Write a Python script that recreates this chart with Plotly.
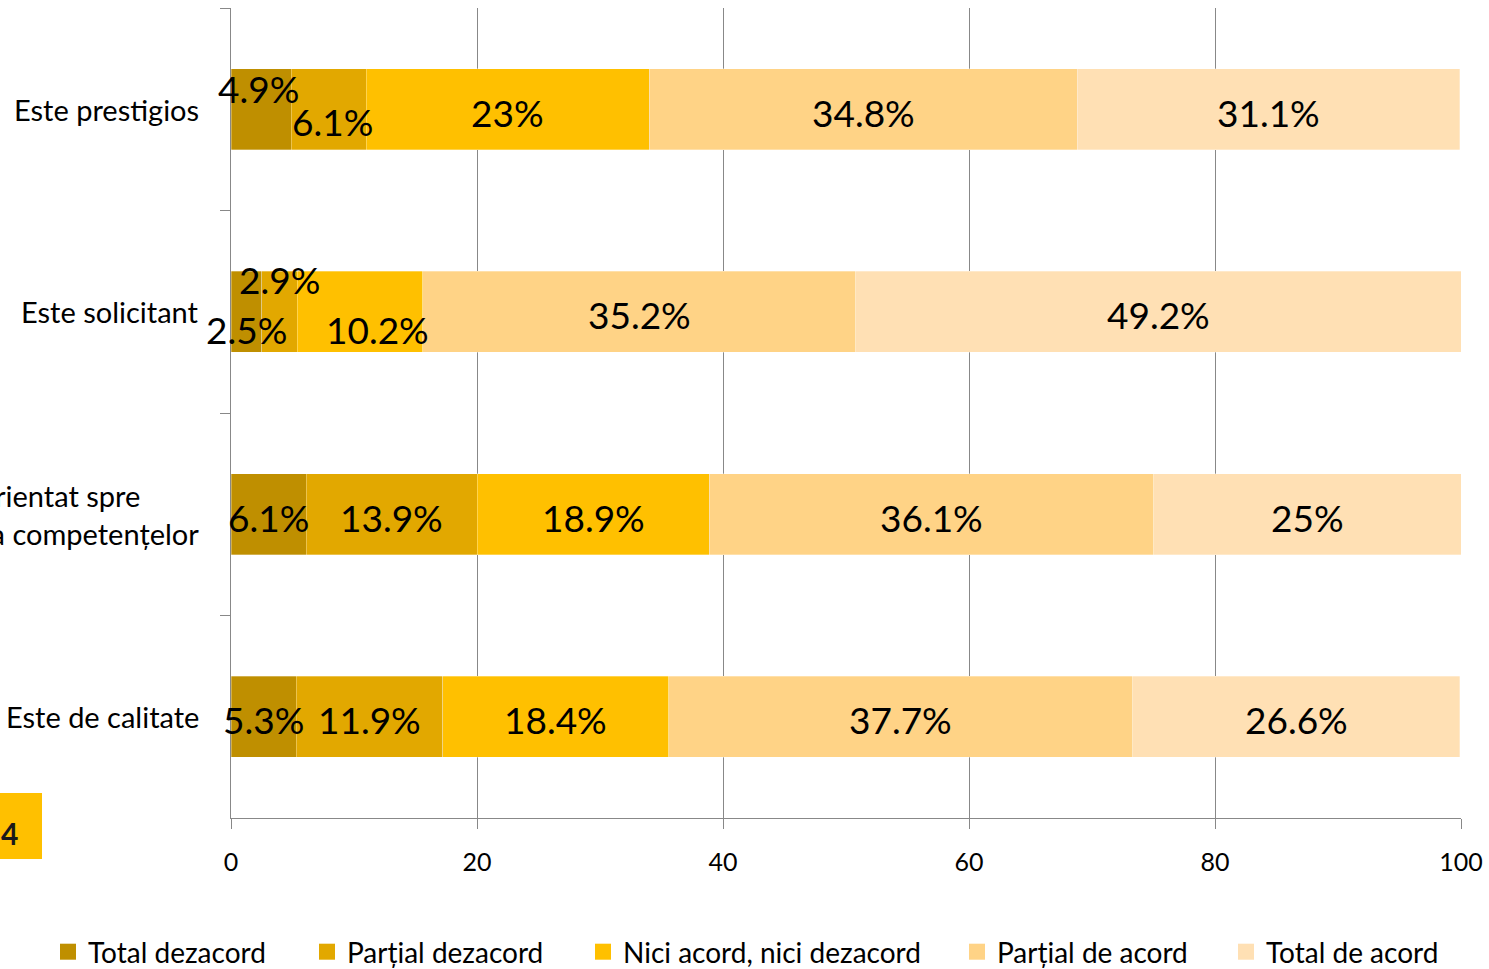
import plotly.graph_objects as go

categories = ["Este prestigios", "Este solicitant",
              "Este orientat spre<br>dezvoltarea competențelor", "Este de calitate"]
series_names = ["Total dezacord", "Parțial dezacord", "Nici acord, nici dezacord",
                "Parțial de acord", "Total de acord"]
total_dezacord = [4.9, 2.5, 6.1, 5.3]
partial_dezacord = [6.1, 2.9, 13.9, 11.9]
nici_acord = [23, 10.2, 18.9, 18.4]
partial_acord = [34.8, 35.2, 36.1, 37.7]
total_acord = [31.1, 49.2, 25, 26.6]
x_ticks = [0, 20, 40, 60, 80, 100]

series_values = [total_dezacord, partial_dezacord, nici_acord, partial_acord, total_acord]
colors = ["#BF8F00", "#E2A800", "#FFC000", "#FFD386", "#FFE0B4"]

# layout helpers (pixels)
PLOT_L, PLOT_R, PLOT_T, PLOT_B = 231, 1461, 8, 818
W, H = 1489, 969
def px_x(p):
    return (p - PLOT_L) / (PLOT_R - PLOT_L)
def px_y(p):
    return (PLOT_B - p) / (PLOT_B - PLOT_T)

legend_square_centers = [67, 326, 602, 976, 1245]
legend_y_px = 952

# manual label nudges in pixels: (category index, series index) -> (xshift, yshift)
label_nudge = {
    (0, 0): (-3, 21), (0, 1): (4, -12),
    (1, 0): (0, -18), (1, 1): (0, 32), (1, 2): (17, -18),
}

FONT = "Lato"
fig = go.Figure()
for i, (name, vals, col) in enumerate(zip(series_names, series_values, colors)):
    fig.add_trace(go.Bar(
        y=categories, x=vals, name=name, orientation="h",
        marker=dict(color=col, line=dict(color="rgba(255,255,255,0.5)", width=0.6)),
        hoverinfo="x+name", showlegend=False,
    ))
    lg = "legend" if i == 0 else f"legend{i + 1}"
    fig.add_trace(go.Scatter(
        x=[None], y=[None], mode="markers", name=name, legend=lg,
        marker=dict(symbol="square", size=16, color=col), showlegend=True,
    ))

annotations = []
for ci, cat in enumerate(categories):
    cum = 0.0
    for si, vals in enumerate(series_values):
        v = vals[ci]
        mid = cum + v / 2
        cum += v
        xs, ys = label_nudge.get((ci, si), (0, -3))
        annotations.append(dict(
            x=mid, y=cat, xref="x", yref="y", text=f"{v:g}%", showarrow=False,
            xanchor="center", yanchor="middle", xshift=xs, yshift=ys,
            font=dict(family=FONT, size=37, color="#000000"),
        ))
    annotations.append(dict(
        x=px_x(201), y=cat, xref="paper", yref="y", text=cat, showarrow=False,
        xanchor="right", yanchor="middle", align="center",
        font=dict(family=FONT, size=29, color="#000000"),
    ))

# page number badge (partially cut at the left edge)
annotations.append(dict(
    x=px_x(9), y=px_y(833), xref="paper", yref="paper", text="<b>4</b>", showarrow=False,
    xanchor="center", yanchor="middle", font=dict(family=FONT, size=30, color="#1a1a1a"),
))

legends = {}
for i, c in enumerate(legend_square_centers):
    key = "legend" if i == 0 else f"legend{i + 1}"
    legends[key] = dict(
        orientation="h", x=px_x(c - 19), y=px_y(legend_y_px), xanchor="left", yanchor="middle",
        font=dict(family=FONT, size=28, color="#000000"), bgcolor="rgba(0,0,0,0)",
    )

fig.update_layout(
    barmode="stack", bargap=0.6,
    width=W, height=H,
    margin=dict(l=PLOT_L, r=W - PLOT_R, t=PLOT_T, b=H - PLOT_B, autoexpand=False),
    paper_bgcolor="white", plot_bgcolor="white",
    font=dict(family=FONT, color="#000000"),
    showlegend=True,
    annotations=annotations,
    shapes=[dict(type="rect", xref="paper", yref="paper", x0=px_x(0), x1=px_x(42),
                 y0=px_y(859), y1=px_y(793), fillcolor="#FFC000", line=dict(width=0),
                 layer="below")],
    **legends,
)
fig.update_xaxes(
    range=[0, 100], tickvals=x_ticks, ticktext=[str(t) for t in x_ticks],
    showgrid=True, gridcolor="#888888", gridwidth=1,
    showline=True, linecolor="#888888", linewidth=1,
    ticks="outside", ticklen=10, tickcolor="#888888",
    tickfont=dict(family=FONT, size=25, color="#000000"),
    ticklabelstandoff=12, zeroline=False,
)
fig.update_yaxes(
    categoryorder="array", categoryarray=categories, autorange="reversed",
    showticklabels=False, showline=True, linecolor="#888888", linewidth=1,
    ticks="outside", ticklen=10, tickcolor="#888888", tickson="boundaries",
    showgrid=False, zeroline=False,
)

fig.write_html("out.html", config={"displayModeBar": False},
               post_script="document.body.style.margin='0';document.body.style.overflow='hidden';")
